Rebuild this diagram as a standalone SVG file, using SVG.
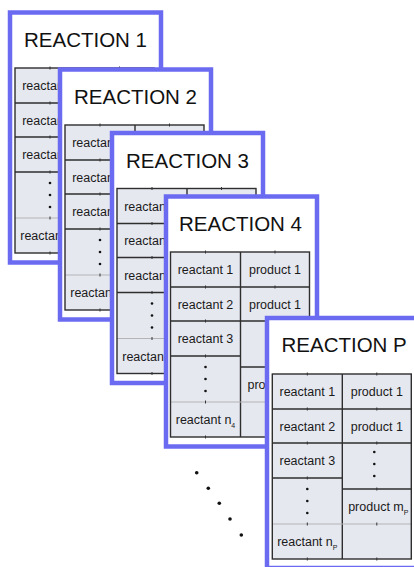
<svg xmlns="http://www.w3.org/2000/svg" xmlns:xlink="http://www.w3.org/1999/xlink" width="414" height="567" viewBox="0 0 414 567">
<style>
.card{fill:#ffffff;stroke:#6b6bf2;stroke-width:4.5}
.title{font-family:"Liberation Sans",Arial,sans-serif;font-size:20.5px;fill:#111}
.cell{font-family:"Liberation Sans",Arial,sans-serif;font-size:12.5px;fill:#1a1a1a;text-anchor:middle}
.sub{font-size:7px}
.gl{stroke:#2e2e2e;stroke-width:1.4;fill:none}
.gg{stroke:#b4b4b8;stroke-width:1.2;fill:none}
.tk{stroke:#333;stroke-width:1}
.dot{fill:#111}
</style>
<defs>
<g id="grid">
<rect x="0" y="0" width="139" height="185" fill="#e6e8f0"/>
<path class="gl" d="M0,35H139M0,69H139M0,104H70M70,115H139M70,0V185"/>
<path class="gg" d="M0,150H139"/>
<rect class="gl" x="0" y="0" width="139" height="185"/>
<path class="tk" d="M35,-1.5v3M104.5,-1.5v3M35,33.5v3M104.5,33.5v3M35,67.5v3M104.5,67.5v3M35,102.5v3M104.5,113.5v3M35,148.5v3M104.5,148.5v3M35,183.5v3M104.5,183.5v3"/>
</g>
<g id="vdots">
<circle class="dot" cx="0" cy="0" r="1.3"/>
<circle class="dot" cx="0" cy="12" r="1.3"/>
<circle class="dot" cx="0" cy="24" r="1.3"/>
</g>
</defs>

<g id="reaction1" transform="translate(10,12.5)">
<rect class="card" x="0" y="0" width="151" height="250"/>
<text class="title" x="14" y="34.5">REACTION 1</text>
<g transform="translate(5,55.5)">
<use xlink:href="#grid"/>
<text class="cell" x="35" y="22">reactant 1</text>
<text class="cell" x="35" y="56.5">reactant 2</text>
<text class="cell" x="35" y="91">reactant 3</text>
<use xlink:href="#vdots" x="35" y="115"/>
<text class="cell" x="35" y="172">reactant n<tspan class="sub" dy="4">1</tspan></text>
</g>
</g>

<g id="reaction2" transform="translate(60,69.5)">
<rect class="card" x="0" y="0" width="151" height="250"/>
<text class="title" x="14" y="34.5">REACTION 2</text>
<g transform="translate(5,55.5)">
<use xlink:href="#grid"/>
<text class="cell" x="35" y="22">reactant 1</text>
<text class="cell" x="35" y="56.5">reactant 2</text>
<text class="cell" x="35" y="91">reactant 3</text>
<use xlink:href="#vdots" x="35" y="115"/>
<text class="cell" x="35" y="172">reactant n<tspan class="sub" dy="4">2</tspan></text>
</g>
</g>

<g id="reaction3" transform="translate(112,133)">
<rect class="card" x="0" y="0" width="151" height="250"/>
<text class="title" x="14" y="34.5">REACTION 3</text>
<g transform="translate(5,55.5)">
<use xlink:href="#grid"/>
<text class="cell" x="35" y="22">reactant 1</text>
<text class="cell" x="35" y="56.5">reactant 2</text>
<text class="cell" x="35" y="91">reactant 3</text>
<use xlink:href="#vdots" x="35" y="115"/>
<text class="cell" x="35" y="172">reactant n<tspan class="sub" dy="4">3</tspan></text>
</g>
</g>

<g id="reaction4" transform="translate(166,196.5)">
<rect class="card" x="0" y="0" width="151" height="250"/>
<text class="title" x="13" y="34.5">REACTION 4</text>
<g transform="translate(4.5,55.5)">
<use xlink:href="#grid"/>
<text class="cell" x="35" y="22">reactant 1</text>
<text class="cell" x="35" y="56.5">reactant 2</text>
<text class="cell" x="35" y="91">reactant 3</text>
<use xlink:href="#vdots" x="35" y="115"/>
<text class="cell" x="35" y="172">reactant n<tspan class="sub" dy="4">4</tspan></text>
<text class="cell" x="104.5" y="22">product 1</text>
<text class="cell" x="104.5" y="56.5">product 1</text>
<text class="cell" x="77" y="137" style="text-anchor:start">pro</text>
</g>
</g>

<g id="connectors">
<circle class="dot" cx="196.7" cy="472.7" r="1.8"/>
<circle class="dot" cx="208.3" cy="488.3" r="1.8"/>
<circle class="dot" cx="219.3" cy="503.3" r="1.8"/>
<circle class="dot" cx="230" cy="519" r="1.8"/>
<circle class="dot" cx="241.3" cy="535" r="1.8"/>
</g>

<g id="reactionP" transform="translate(267,318)">
<rect class="card" x="0" y="0" width="151" height="250"/>
<text class="title" x="14.5" y="34">REACTION P</text>
<g transform="translate(5.3,56)">
<use xlink:href="#grid"/>
<text class="cell" x="35" y="22">reactant 1</text>
<text class="cell" x="35" y="56.5">reactant 2</text>
<text class="cell" x="35" y="91">reactant 3</text>
<use xlink:href="#vdots" x="35" y="115"/>
<text class="cell" x="35" y="172">reactant n<tspan class="sub" dy="4">P</tspan></text>
<text class="cell" x="104.5" y="22">product 1</text>
<text class="cell" x="104.5" y="56.5">product 1</text>
<use xlink:href="#vdots" x="102" y="78"/>
<text class="cell" x="106" y="137">product m<tspan class="sub" dy="4">P</tspan></text>
</g>
</g>
</svg>
